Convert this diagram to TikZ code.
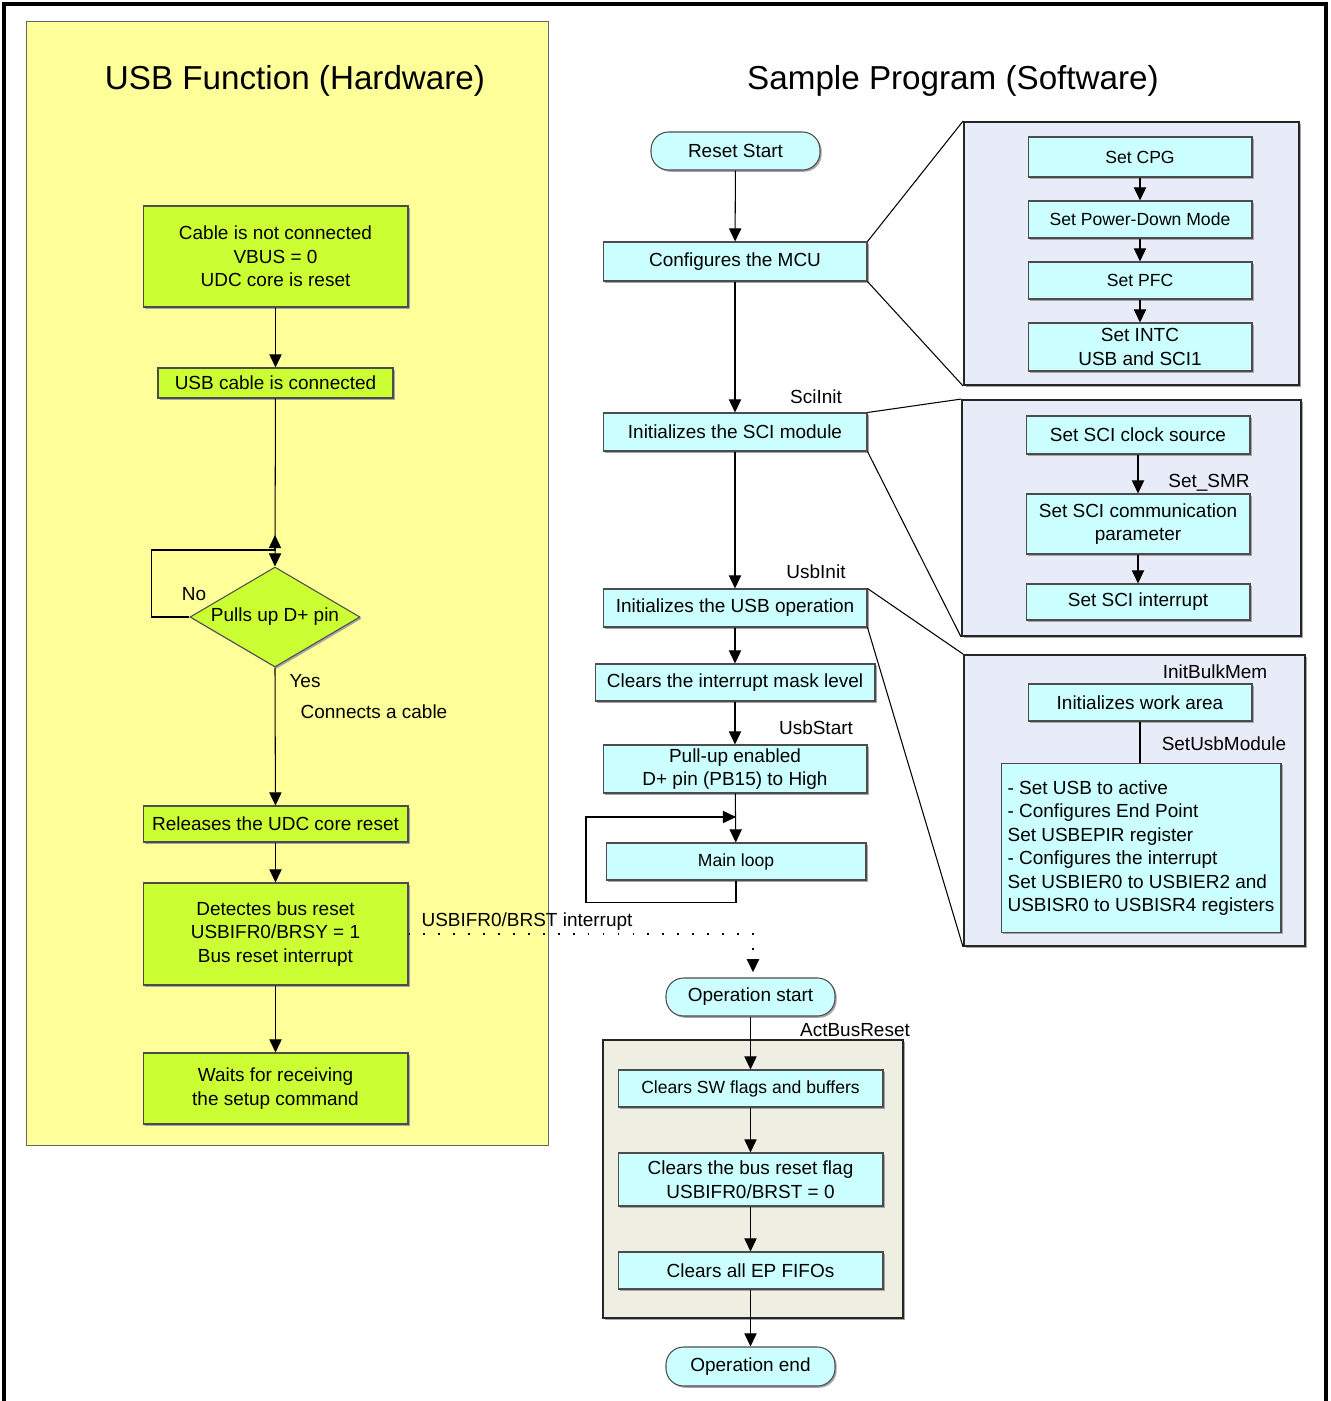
\documentclass[tikz,border=0pt]{standalone}
\usepackage{fontspec}
\setmainfont{Liberation Sans}
\usetikzlibrary{arrows.meta,shapes.geometric,shadows}

\definecolor{hwyellow}{RGB}{255,255,153}
\definecolor{hwgreen}{RGB}{204,255,51}
\definecolor{swcyan}{RGB}{204,255,255}
\definecolor{subblue}{RGB}{232,236,248}
\definecolor{subgray}{RGB}{238,238,226}

\begin{document}
\begin{tikzpicture}[x=0.02cm,y=-0.02cm, line width=0.6pt,
    every node/.style={font=\fontsize{10.8}{13.4}\selectfont},
    shade/.style={drop shadow={shadow xshift=1pt,shadow yshift=-1pt,fill=black!35,opacity=1}},
    hwbox/.style={draw=black!70, fill=hwgreen, align=center, inner sep=0pt, shade},
    swbox/.style={draw=black!70, fill=swcyan, align=center, inner sep=0pt, shade},
    term/.style={swbox, rounded corners=10pt},
    panel/.style={draw=black!85, line width=1.1pt, inner sep=0pt, shade},
    lbl/.style={inner sep=1pt},
    title/.style={font=\fontsize{18.9}{22}\selectfont},
    small/.style={font=\fontsize{10}{12}\selectfont},
    arr/.style={-{Triangle[length=7.5pt,width=7pt]}}]
    \useasboundingbox (0,0) rectangle (1330,1401);

    % frame and panels
    \draw[line width=2.3pt] (4,1410) -- (4,4) -- (1326,4) -- (1326,1410);
    \node[draw=black!60, fill=hwyellow, minimum width=10.46cm, minimum height=22.5cm] (hwpanel) at (287.5,583.5) {};
    \node[panel, fill=subblue, minimum width=6.7cm, minimum height=5.26cm] (mcupanel) at (1131.5,253.5) {};
    \node[panel, fill=subblue, minimum width=6.78cm, minimum height=4.72cm] (scipanel) at (1131.5,518) {};
    \node[panel, fill=subblue, minimum width=6.82cm, minimum height=5.82cm] (usbpanel) at (1134.5,800.5) {};
    \node[panel, fill=subgray, minimum width=6cm, minimum height=5.56cm] (rstpanel) at (753,1179) {};

    \node[title] (hwtitle) at (295,81) {USB Function (Hardware)};
    \node[title] (swtitle) at (953,81) {Sample Program (Software)};

    % hardware side
    \node[hwbox, minimum width=5.3cm, minimum height=2.02cm] (cable) at (275.5,256.5) {Cable is not connected\\VBUS = 0\\UDC core is reset};
    \node[hwbox, minimum width=4.7cm, minimum height=0.6cm] (usbconn) at (275.5,383) {USB cable is connected};
    \node[hwbox, diamond, aspect=1.7, minimum width=3.4cm, minimum height=2cm] (pullsup) at (275,617) {Pulls up D+ pin};
    \node[hwbox, minimum width=5.3cm, minimum height=0.72cm] (releases) at (275.5,824) {Releases the UDC core reset};
    \node[hwbox, minimum width=5.3cm, minimum height=2.04cm] (detect) at (275.5,934) {Detectes bus reset\\USBIFR0/BRSY = 1\\Bus reset interrupt};
    \node[hwbox, minimum width=5.3cm, minimum height=1.42cm] (waits) at (275.5,1088.5) {Waits for receiving\\the setup command};

    \node[lbl] (nolbl) at (194,594) {No};
    \node[lbl] (yeslbl) at (305,681) {Yes};
    \node[lbl] (cablelbl) at (374,712) {Connects a cable};
    \node[lbl] (irqlbl) at (527,922) {USBIFR0/BRST interrupt};

    \coordinate (nojoin) at (275,550);
    \draw[arr] (cable) -- (usbconn);
    \draw[arr] (usbconn) -- (pullsup.north);
    \draw[arr] (pullsup.west) -- ++(-38,0) |- (nojoin) -- ++(0,-15);
    \draw[arr] (pullsup.south) -- (releases);
    \draw[arr] (releases) -- (detect);
    \draw[arr] (detect) -- (waits);

    % software side
    \node[term, minimum width=3.38cm, minimum height=0.76cm] (resetstart) at (735.5,151) {Reset Start};
    \node[swbox, minimum width=5.28cm, minimum height=0.78cm] (mcu) at (735,261.5) {Configures the MCU};
    \node[swbox, minimum width=5.28cm, minimum height=0.76cm] (sci) at (735,432) {Initializes the SCI module};
    \node[swbox, minimum width=5.28cm, minimum height=0.76cm] (usbop) at (735,608) {Initializes the USB operation};
    \node[swbox, minimum width=5.6cm, minimum height=0.74cm] (mask) at (735,682.5) {Clears the interrupt mask level};
    \node[swbox, minimum width=5.28cm, minimum height=0.96cm] (pullup) at (735,769) {Pull-up enabled\\D+ pin (PB15) to High};
    \node[swbox, small, minimum width=5.2cm, minimum height=0.74cm] (mainloop) at (736,861.5) {Main loop};

    \node[lbl] (sciinit) at (816,397) {SciInit};
    \node[lbl] (usbinit) at (816,572) {UsbInit};
    \node[lbl] (usbstart) at (816,728) {UsbStart};

    \coordinate (mljoin) at (736,817);
    \draw[arr] (resetstart) -- (mcu);
    \draw[arr] (mcu) -- (sci);
    \draw[arr] (sci) -- (usbop);
    \draw[arr] (usbop) -- (mask);
    \draw[arr] (mask) -- (pullup);
    \draw[arr] (pullup) -- (mainloop);
    \draw[arr] (mainloop.south) -- ++(0,22) -- ++(-150,0) |- (mljoin);

    % bus reset handler
    \node[term, minimum width=3.38cm, minimum height=0.76cm] (opstart) at (750.5,997) {Operation start};
    \node[swbox, small, minimum width=5.3cm, minimum height=0.74cm] (swflags) at (750.5,1088.5) {Clears SW flags and buffers};
    \node[swbox, minimum width=5.3cm, minimum height=1.06cm] (brflag) at (750.5,1179.5) {Clears the bus reset flag\\USBIFR0/BRST = 0};
    \node[swbox, minimum width=5.3cm, minimum height=0.74cm] (fifo) at (750.5,1270.5) {Clears all EP FIFOs};
    \node[term, minimum width=3.38cm, minimum height=0.78cm] (opend) at (750.5,1366.5) {Operation end};
    \node[lbl] (actbus) at (855,1030) {ActBusReset};

    \coordinate (irqturn) at (753,934);
    \draw[line width=1pt, dash pattern=on 1pt off 7.5pt, arr, shorten >=3pt] (detect.east) -- (irqturn) -- (opstart.north -| irqturn);
    \draw[arr] (opstart) -- (swflags);
    \draw[arr] (swflags) -- (brflag);
    \draw[arr] (brflag) -- (fifo);
    \draw[arr] (fifo) -- (opend);

    % MCU setup detail
    \node[swbox, small, minimum width=4.48cm, minimum height=0.8cm] (cpg) at (1140,157) {Set CPG};
    \node[swbox, small, minimum width=4.48cm, minimum height=0.74cm] (pdm) at (1140,219.5) {Set Power-Down Mode};
    \node[swbox, small, minimum width=4.48cm, minimum height=0.74cm] (pfc) at (1140,280.5) {Set PFC};
    \node[swbox, minimum width=4.48cm, minimum height=0.96cm] (intc) at (1140,347) {Set INTC\\USB and SCI1};
    \draw[arr] (cpg) -- (pdm);
    \draw[arr] (pdm) -- (pfc);
    \draw[arr] (pfc) -- (intc);

    % SCI setup detail
    \node[swbox, minimum width=4.48cm, minimum height=0.76cm] (sciclk) at (1138,435) {Set SCI clock source};
    \node[swbox, minimum width=4.48cm, minimum height=1.2cm] (scicom) at (1138,524) {Set SCI communication\\parameter};
    \node[swbox, minimum width=4.48cm, minimum height=0.72cm] (sciint) at (1138,602) {Set SCI interrupt};
    \node[lbl] (setsmr) at (1209,483) {Set\_SMR};
    \draw[arr] (sciclk) -- (scicom);
    \draw[arr] (scicom) -- (sciint);

    % USB setup detail
    \node[lbl] (bulkmem) at (1215,672) {InitBulkMem};
    \node[swbox, minimum width=4.48cm, minimum height=0.74cm] (workarea) at (1140,702.5) {Initializes work area};
    \node[lbl] (usbmodlbl) at (1224,744) {SetUsbModule};
    \node[swbox, align=left, minimum width=5.6cm, minimum height=3.38cm] (usbmod) at (1141,848) {- Set USB to active\\- Configures End Point\\Set USBEPIR register\\- Configures the interrupt\\Set USBIER0 to USBIER2 and\\USBISR0 to USBISR4 registers};
    \draw (workarea) -- (workarea |- usbmod.north);

    % zoom lines
    \draw (mcu.north east) -- (mcupanel.north west);
    \draw (mcu.south east) -- (mcupanel.south west);
    \draw (sci.north east) -- (scipanel.north west);
    \draw (sci.south east) -- (scipanel.south west);
    \draw (usbop.north east) -- (usbpanel.north west);
    \draw (usbop.south east) -- (usbpanel.south west);
\end{tikzpicture}
\end{document}
